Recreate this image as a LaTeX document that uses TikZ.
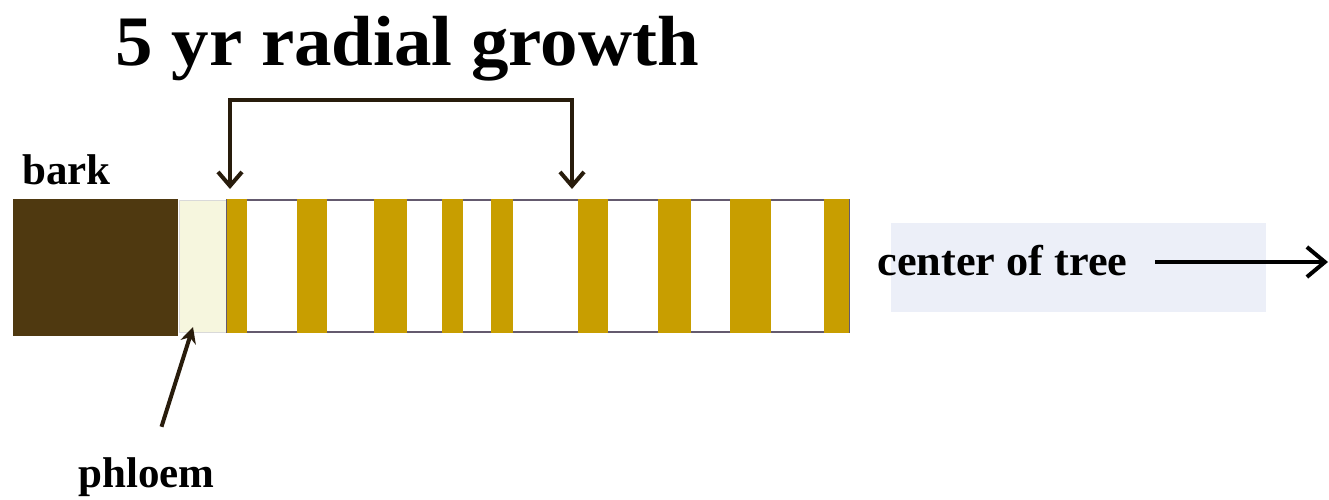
\documentclass[tikz,border=0pt]{standalone}
\usepackage{fontspec}
\setmainfont{Liberation Serif}
\usetikzlibrary{arrows.meta}
\usetikzlibrary{calc,positioning}

\definecolor{barkbrown}{RGB}{79,57,16}
\definecolor{phloemcream}{RGB}{246,246,222}
\definecolor{ringgold}{RGB}{200,158,0}
\definecolor{coreline}{RGB}{100,90,110}
\definecolor{tagblue}{RGB}{236,239,248}
\definecolor{inkbrown}{RGB}{40,28,12}

\begin{document}
\begin{tikzpicture}[>={Straight Barb[length=7pt,width=12pt]}, x=0.5pt, y=-0.5pt,
    lbl/.style={font=\bfseries\fontsize{21.5}{24}\selectfont, inner sep=0pt, anchor=base west},
    block/.style={inner sep=0pt, outer sep=0pt, anchor=north west},
    ring/.style={block, fill=ringgold, minimum height=67pt}]

    \useasboundingbox (0,0) rectangle (1329,499);

    \node[lbl, font=\bfseries\fontsize{35.5}{40}\selectfont] (title) at (115,65) {\scalebox{1.055}[1]{5 yr radial growth}};

    % strip: bark, phloem, then the xylem with its rings
    \node[block, fill=barkbrown, minimum width=82.5pt, minimum height=68.5pt] (bark) at (13,199) {};
    \node[block, fill=phloemcream, draw=black!15, line width=0.4pt, minimum width=24pt, minimum height=66pt] (phloem) at (179,200) {};
    \node[block, draw=coreline, line width=1pt, minimum width=311pt, minimum height=66pt] (xylem) at (227,200) {};

    \foreach \a/\b [count=\i] in {227/247,297/327,374/407,442/463,491/513,578/608,658/691,730/771,824/849}{
        \pgfmathsetmacro{\w}{(\b-\a)*0.5}
        \node[ring, minimum width=\w pt] (r\i) at (\a,199) {};
    }

    \node[lbl] (barklbl) at (22,184) {bark};
    \node[lbl] (phloemlbl) at (78,487) {phloem};

    \node[block, fill=tagblue, minimum width=187.5pt, minimum height=44.5pt] (tag) at (891,223) {};
    \node[lbl] (ctr) at (877,275) {\scalebox{1.03}[1]{center of tree}};

    \coordinate (gA) at ($(r1.north west)+(3,-10)$);
    \coordinate (gB) at ($(r6.north west)+(-6,-10)$);
    \draw[<->, inkbrown, line width=2pt] (gA) -- ++(0,-89) -| (gB);

    \coordinate (ptail) at ($(phloemlbl.north)+(15,-30)$);
    \coordinate (ptip) at ($(phloem.south west)+(14,-5)$);
    \draw[-{Stealth[length=8pt,width=8pt]}, inkbrown, line width=2pt] (ptail) -- (ptip);

    \coordinate (cS) at (1155,262);
    \coordinate (cE) at (1328,262);
    \draw[-{Straight Barb[length=9pt,width=15pt]}, line width=2pt] (cS) -- (cE);

\end{tikzpicture}
\end{document}
